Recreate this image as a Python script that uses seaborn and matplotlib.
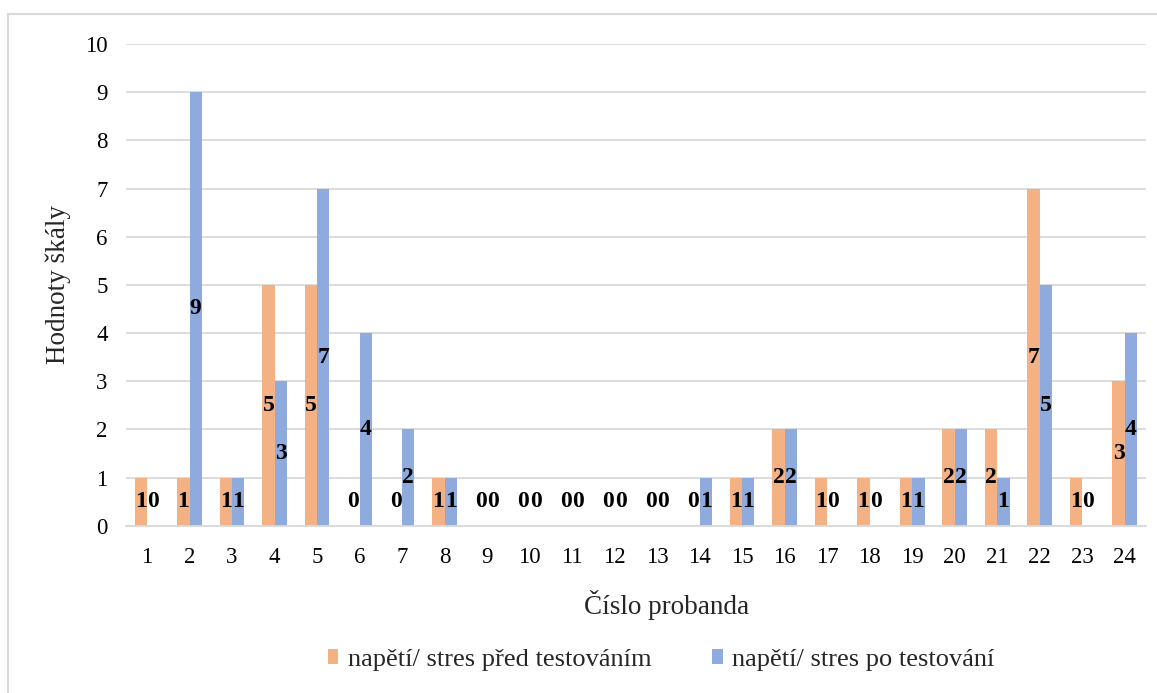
import matplotlib
matplotlib.use("Agg")
import matplotlib.pyplot as plt
from matplotlib.lines import Line2D
from matplotlib.patches import Patch
import seaborn as sns
import pandas as pd

# Stress self-rating per participant, before and after testing
probands = [str(i) for i in range(1, 25)]
pred_testovanim = [1, 1, 1, 5, 5, 0, 0, 1, 0, 0, 0, 0, 0, 0, 1, 2, 1, 1, 1, 2, 2, 7, 1, 3]
po_testovani = [0, 9, 1, 3, 7, 4, 2, 1, 0, 0, 0, 0, 0, 1, 1, 2, 0, 0, 1, 2, 1, 5, 0, 4]
series_names = ["napětí/ stres před testováním", "napětí/ stres po testování"]
y_ticks = list(range(0, 11))

colors = ["#F4B183", "#8FAADC"]
grid_color = "#D9D9D9"

df = pd.DataFrame({
    "proband": probands * 2,
    "hodnota": pred_testovanim + po_testovani,
    "serie": [series_names[0]] * len(probands) + [series_names[1]] * len(probands),
})

sns.set_theme(style="white")
plt.rcParams["font.family"] = ["Liberation Serif", "DejaVu Serif"]

W, H = 1157, 693
fig = plt.figure(figsize=(W / 100, H / 100), dpi=100)
ax = fig.add_axes([0.1087, 0.2414, 0.8818, 0.6951])

sns.barplot(data=df, x="proband", y="hodnota", hue="serie", order=probands,
            hue_order=series_names, palette=colors, width=0.58, gap=0,
            saturation=1, edgecolor="none", linewidth=0, legend=False, ax=ax)

ax.set_ylim(0, 10)
ax.set_xlim(-0.5, len(probands) - 0.5)
ax.set_yticks(y_ticks)
ax.yaxis.grid(True, color=grid_color, linewidth=1.3)
ax.set_axisbelow(True)
for side in ["left", "right", "top"]:
    ax.spines[side].set_visible(False)
ax.spines["bottom"].set_color(grid_color)
ax.spines["bottom"].set_linewidth(1.3)
ax.tick_params(axis="both", length=0, labelsize=16.5, colors="black")
ax.tick_params(axis="y", pad=13)
ax.tick_params(axis="x", pad=15)

ax.set_xlabel("Číslo probanda", fontsize=19.5)
ax.xaxis.label.set_va("center")
ax.xaxis.set_label_coords(0.5305, -0.1646)
ax.set_ylabel("Hodnoty škály", fontsize=19.5)
ax.yaxis.label.set_va("center")
ax.yaxis.set_label_coords(-0.0664, 0.5)

# Value labels in the middle of each bar (zero values sit at half a unit)
for container, values in zip(ax.containers, [pred_testovanim, po_testovani]):
    for bar, v in zip(container, values):
        cx = bar.get_x() + bar.get_width() / 2
        cy = max(v / 2, 0.5)
        ax.text(cx, cy, str(v), ha="center", va="center", fontsize=17,
                fontweight="bold", color="black")

handles = [Patch(facecolor=c, edgecolor="none") for c in colors]
fig.legend(handles, series_names, loc="center", bbox_to_anchor=(0.5713, 0.048),
           ncol=2, frameon=False, fontsize=19, handlelength=0.4, handleheight=0.55,
           handletextpad=0.35, columnspacing=2.3)

# Frame lines of the chart area
fig.add_artist(Line2D([8 / W, 1.0], [1 - 14 / H, 1 - 14 / H],
                      color=grid_color, linewidth=1.5, transform=fig.transFigure))
fig.add_artist(Line2D([8 / W, 8 / W], [0.0, 1 - 14 / H],
                      color=grid_color, linewidth=1.5, transform=fig.transFigure))

fig.savefig("out.png", dpi=100, facecolor="white")
